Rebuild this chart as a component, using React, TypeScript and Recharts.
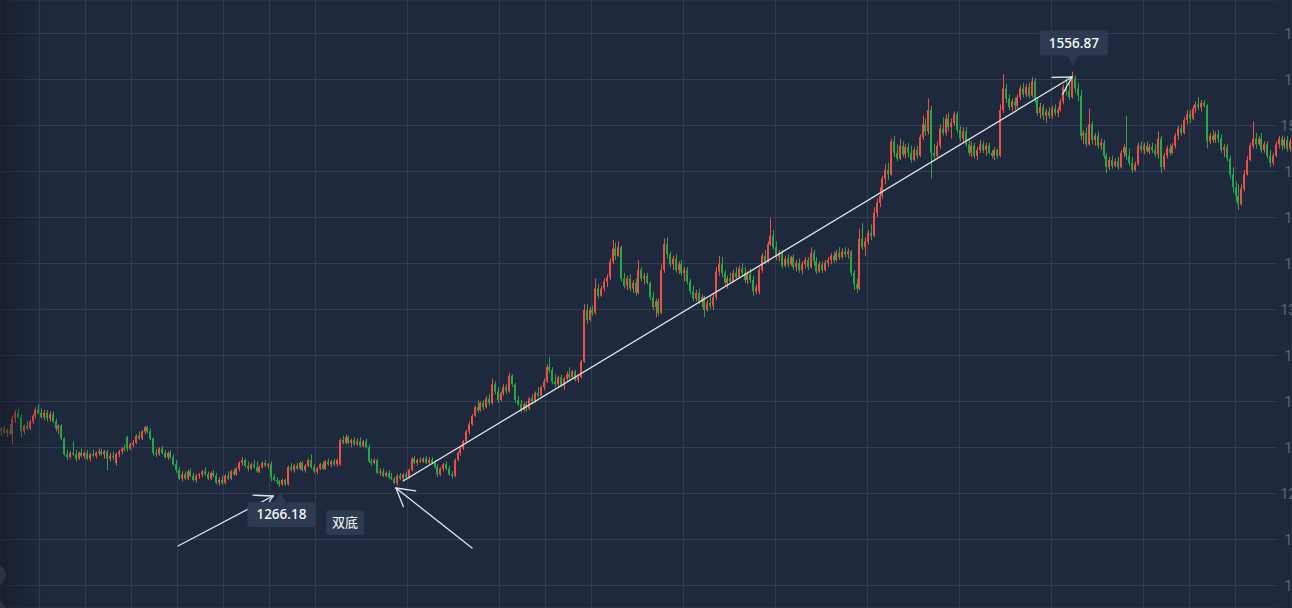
import React from "react";
import {
  ComposedChart,
  Bar,
  XAxis,
  YAxis,
  CartesianGrid,
  ReferenceLine,
  ReferenceDot,
} from "recharts";

// ---------- data ----------
const opens = [
  1305,1307,1304,1306,1303,1314,1318,1315,1305,1309,
  1307,1312,1316,1320,1318,1315,1318,1314,1317,1312,
  1307,1309,1300,1289,1287,1290,1289,1286,1290,1288,
  1290,1286,1289,1288,1290,1291,1289,1291,1286,1288,
  1283,1289,1291,1293,1301,1293,1296,1297,1302,1300,
  1305,1308,1305,1300,1290,1289,1293,1290,1287,1290,
  1287,1282,1278,1272,1275,1272,1277,1274,1271,1274,
  1275,1277,1275,1272,1276,
  1274,1269,1271,1269,1274,
  1272,1277,1275,1279,1283,1285,1281,1279,1282,1280,
  1277,1280,1283,1281,1282,1273,1271,1270,1268,1271,
  1268,1280,1278,1281,1279,1283,1278,1281,1285,1280,
  1277,1279,1282,1279,1284,1282,1284,1282,1282,1299,
  1297,1301,1297,1299,1296,1298,1295,1298,1294,1284,
  1283,1285,1276,1277,1274,1276,1273,1272,1269,1274,
  1272,1275,1273,1278,1286,1283,1285,1284,1286,1283,
  1285,1283,1280,1275,1279,1282,1279,1275,1274,1285,
  1290,1293,1298,1305,1310,1316,1322,1320,1325,1322,
  1328,1325,1338,1333,1327,1332,1336,1333,1344,1338,
  1327,1324,1320,1324,1321,1328,1326,1332,1330,1336,
  1340,1350,1348,1340,1338,1343,1337,1342,1345,1343,
  1347,1341,1343,1354,1390,1383,1390,1388,1405,1400,
  1405,1410,1413,1424,1433,1428,1434,1412,1407,1412,
  1405,1409,1402,1418,1412,
  1414,1409,1399,1392,1396,
  1388,1418,1436,1429,1422,1426,1418,1422,1416,1418,
  1410,1403,1398,1402,1396,1399,1390,1395,1393,1399,
  1417,1422,1416,1409,1412,1410,1416,1413,1419,1416,
  1411,1415,1411,1403,1403,1418,1428,1424,1436,1442,
  1434,1427,1430,1421,1426,1422,1427,1420,1423,1418,
  1422,1425,1420,1430,1424,1417,1422,1418,1423,1425,
  1428,1425,1430,1427,1431,1429,1431,1416,1408,1405,
  1440,1434,1438,1444,1442,1458,1465,1470,1482,1488,
  1485,1508,1500,1496,1505,1499,1504,1500,1495,1502,
  1498,1511,1520,1515,1530,1500,1498,1505,1517,1514,
  1524,1518,1521,1527,1516,1510,1515,1506,1500,1505,
  1498,1502,1506,1502,1505,1500,1498,1502,1498,1530,
  1545,1538,1532,1536,1533,1539,1545,1541,1546,1540,
  1550,1537,1528,1532,1526,1529,1526,1531,1528,1530,
  1536,1546,1543,1539,1552,
  1545,1540,1512,1514,1506,
  1520,1509,1512,1505,1507,1498,1490,1495,1491,1494,
  1490,1500,1504,1498,1493,1488,1492,1505,1502,1505,
  1501,1504,1502,1499,1510,1490,1498,1503,1500,1505,
  1512,1517,1514,1523,1527,1524,1531,1534,1532,1535,
  1533,1508,1512,1509,1513,1510,1502,1504,1496,1485,
  1476,1470,1464,1475,1485,1495,1505,1510,1506,1510,
  1502,1506,1498,1493,1498,1506,1510,1505,1509,1503,
];

const highs = [
  1308,1309,1307,1310,1316,1320,1321,1317,1310,1312,
  1313,1317,1322,1324,1321,1320,1320,1319,1319,1314,
  1310,1310,1301,1292,1291,1298,1292,1291,1293,1291,
  1292,1290,1292,1291,1293,1293,1292,1292,1290,1291,
  1290,1292,1294,1296,1302,1297,1299,1303,1305,1306,
  1309,1309,1307,1301,1293,1294,1295,1292,1291,1292,
  1289,1285,1280,1277,1277,1278,1279,1276,1275,1276,
  1278,1280,1277,1277,1278,
  1276,1273,1274,1275,1277,
  1278,1279,1280,1284,1287,1286,1284,1283,1285,1284,
  1281,1284,1285,1283,1284,1275,1273,1271,1272,1272,
  1281,1283,1282,1283,1284,1284,1282,1286,1289,1282,
  1280,1283,1284,1285,1286,1285,1286,1286,1300,1302,
  1303,1302,1300,1301,1300,1301,1299,1300,1296,1286,
  1286,1286,1279,1279,1277,1278,1276,1273,1275,1276,
  1276,1277,1279,1287,1288,1286,1287,1287,1288,1287,
  1287,1285,1282,1280,1283,1284,1281,1277,1286,1291,
  1294,1299,1306,1312,1317,1323,1327,1326,1327,1330,
  1331,1342,1340,1336,1333,1338,1338,1346,1345,1339,
  1330,1327,1325,1326,1329,1331,1333,1336,1337,1342,
  1352,1357,1350,1345,1344,1345,1343,1347,1350,1348,
  1348,1344,1355,1394,1394,1392,1393,1412,1408,1407,
  1412,1415,1426,1439,1437,1438,1435,1416,1414,1415,
  1411,1412,1425,1420,1416,
  1416,1410,1403,1398,1398,
  1422,1440,1441,1431,1428,1429,1424,1425,1420,1420,
  1412,1407,1404,1405,1401,1400,1397,1400,1401,1420,
  1428,1427,1418,1414,1416,1418,1420,1421,1423,1420,
  1417,1419,1414,1408,1420,1430,1432,1438,1454,1446,
  1438,1432,1432,1428,1429,1428,1429,1425,1426,1424,
  1427,1427,1434,1432,1427,1424,1424,1425,1427,1430,
  1431,1432,1434,1433,1434,1433,1432,1418,1412,1447,
  1451,1441,1446,1450,1462,1468,1476,1484,1492,1493,
  1510,1512,1506,1510,1508,1506,1507,1505,1504,1505,
  1513,1526,1524,1538,1533,1506,1508,1520,1525,1527,
  1528,1524,1529,1529,1519,1518,1518,1509,1508,1507,
  1504,1509,1508,1507,1507,1502,1504,1503,1534,1555,
  1548,1541,1538,1539,1541,1547,1549,1548,1549,1553,
  1552,1539,1535,1534,1531,1532,1533,1534,1532,1538,
  1548,1553,1550,1556.87,1554,
  1549,1544,1516,1518,1531,
  1522,1514,1515,1510,1509,1500,1497,1498,1496,1497,
  1502,1506,1526,1503,1497,1494,1507,1508,1507,1508,
  1506,1507,1506,1515,1512,1500,1505,1506,1507,1514,
  1519,1520,1525,1530,1530,1533,1536,1539,1537,1537,
  1534,1514,1516,1515,1516,1513,1506,1506,1498,1490,
  1480,1478,1478,1488,1498,1507,1522,1514,1512,1514,
  1508,1508,1502,1500,1508,1512,1512,1511,1512,1510,
];

const lows = [
  1302,1303,1301,1303,1296,1311,1314,1301,1303,1306,
  1306,1310,1314,1317,1314,1313,1312,1312,1311,1305,
  1303,1299,1288,1285,1286,1288,1284,1285,1287,1286,
  1285,1284,1287,1286,1288,1288,1286,1278,1284,1285,
  1281,1287,1289,1291,1291,1292,1294,1296,1299,1299,
  1303,1304,1299,1288,1287,1288,1289,1286,1285,1286,
  1281,1276,1271,1270,1271,1271,1273,1270,1269,1272,
  1273,1274,1271,1271,1273,
  1268,1267,1268,1268,1271,
  1271,1274,1274,1277,1281,1280,1277,1278,1279,1276,
  1276,1279,1280,1279,1270,1270,1268,1266.18,1267,1267,
  1267,1277,1276,1278,1278,1277,1276,1280,1279,1276,
  1275,1278,1278,1278,1281,1280,1281,1280,1281,1296,
  1296,1296,1294,1295,1295,1294,1294,1293,1283,1281,
  1282,1275,1274,1273,1273,1272,1271,1268,1267,1271,
  1271,1272,1272,1277,1282,1281,1283,1283,1282,1282,
  1282,1279,1273,1274,1277,1278,1274,1272,1273,1284,
  1288,1292,1297,1303,1309,1315,1318,1319,1320,1321,
  1323,1324,1331,1325,1326,1330,1331,1332,1336,1325,
  1323,1318,1319,1319,1320,1324,1325,1329,1329,1334,
  1339,1346,1338,1336,1335,1336,1334,1340,1341,1342,
  1340,1339,1342,1353,1380,1382,1386,1387,1398,1399,
  1403,1406,1411,1422,1425,1427,1410,1405,1404,1403,
  1402,1400,1401,1410,1408,
  1408,1397,1390,1385,1386,
  1387,1416,1426,1420,1418,1416,1415,1414,1410,1408,
  1401,1396,1396,1394,1392,1385,1389,1391,1390,1397,
  1414,1413,1407,1405,1408,1409,1411,1412,1414,1409,
  1408,1409,1400,1401,1401,1416,1422,1423,1435,1432,
  1425,1424,1419,1420,1420,1421,1418,1417,1416,1415,
  1419,1418,1419,1421,1415,1416,1416,1417,1420,1422,
  1423,1424,1425,1426,1427,1426,1414,1404,1402,1404,
  1432,1428,1436,1439,1441,1455,1462,1468,1478,1481,
  1484,1497,1494,1495,1497,1496,1497,1493,1494,1496,
  1497,1509,1512,1513,1482,1496,1497,1503,1512,1512,
  1515,1510,1519,1514,1508,1507,1504,1498,1497,1496,
  1495,1500,1500,1498,1499,1496,1495,1496,1497,1528,
  1535,1530,1529,1530,1531,1537,1539,1539,1538,1539,
  1535,1526,1524,1523,1521,1524,1524,1526,1525,1529,
  1534,1540,1537,1538,1542,
  1536,1509,1506,1504,1505,
  1506,1505,1503,1502,1496,1486,1488,1489,1490,1488,
  1489,1497,1495,1491,1486,1487,1491,1500,1499,1500,
  1499,1500,1497,1496,1486,1488,1496,1498,1499,1503,
  1509,1512,1513,1520,1521,1523,1528,1530,1529,1532,
  1503,1506,1507,1507,1507,1500,1497,1494,1482,1472,
  1466,1460,1463,1473,1484,1494,1503,1503,1505,1500,
  1500,1496,1490,1491,1497,1503,1502,1503,1501,1501,
];

const closes = [
  1307,1304,1306,1303,1314,1318,1315,1305,1309,1307,
  1312,1316,1320,1318,1315,1318,1314,1317,1312,1307,
  1309,1300,1289,1287,1290,1289,1286,1290,1288,1290,
  1286,1289,1288,1290,1291,1289,1291,1286,1288,1287,
  1289,1291,1293,1292,1293,1296,1297,1302,1300,1305,
  1308,1305,1300,1290,1289,1293,1290,1287,1290,1287,
  1282,1278,1272,1275,1272,1277,1274,1271,1274,1275,
  1277,1275,1272,1276,1274,
  1269,1271,1269,1274,1272,
  1277,1275,1279,1283,1285,1281,1279,1282,1280,1277,
  1280,1283,1281,1282,1273,1271,1270,1268,1271,1268,
  1280,1278,1281,1279,1283,1278,1281,1285,1280,1277,
  1279,1282,1279,1284,1282,1284,1282,1285,1299,1297,
  1301,1297,1299,1296,1298,1295,1298,1294,1284,1283,
  1285,1276,1277,1274,1276,1273,1272,1269,1274,1272,
  1275,1273,1278,1286,1283,1285,1284,1286,1283,1285,
  1283,1280,1275,1279,1282,1279,1275,1274,1285,1290,
  1293,1298,1305,1310,1316,1322,1320,1325,1322,1328,
  1325,1338,1333,1327,1332,1336,1333,1344,1338,1327,
  1324,1320,1324,1321,1328,1326,1332,1330,1336,1340,
  1350,1348,1340,1338,1343,1337,1342,1345,1343,1347,
  1341,1343,1354,1390,1383,1390,1388,1405,1400,1405,
  1410,1413,1424,1433,1428,1434,1412,1407,1412,1405,
  1409,1402,1418,1412,1414,
  1409,1399,1392,1396,1388,
  1418,1436,1429,1422,1426,1418,1422,1416,1418,1410,
  1403,1398,1402,1396,1399,1390,1395,1393,1399,1417,
  1422,1416,1409,1412,1410,1416,1413,1419,1416,1411,
  1415,1411,1403,1406,1418,1428,1424,1436,1442,1434,
  1427,1430,1421,1426,1422,1427,1420,1423,1418,1422,
  1425,1420,1430,1424,1417,1422,1418,1423,1425,1428,
  1425,1430,1427,1431,1429,1431,1416,1408,1405,1440,
  1434,1438,1444,1442,1458,1465,1470,1482,1488,1485,
  1508,1500,1496,1505,1499,1504,1500,1495,1502,1498,
  1511,1520,1515,1530,1500,1498,1505,1517,1514,1524,
  1518,1521,1527,1516,1510,1515,1506,1500,1505,1498,
  1502,1506,1502,1505,1500,1498,1502,1498,1530,1545,
  1538,1532,1536,1533,1539,1545,1541,1546,1540,1550,
  1537,1528,1532,1526,1529,1526,1531,1528,1530,1536,
  1546,1543,1539,1552,1545,
  1540,1512,1514,1506,1520,
  1509,1512,1505,1507,1498,1490,1495,1491,1494,1490,
  1500,1504,1498,1493,1488,1492,1505,1502,1505,1501,
  1504,1502,1499,1510,1490,1498,1503,1500,1505,1512,
  1517,1514,1523,1527,1524,1531,1534,1532,1535,1533,
  1508,1512,1509,1513,1510,1502,1504,1496,1485,1476,
  1470,1464,1475,1485,1495,1505,1510,1506,1510,1502,
  1506,1498,1493,1498,1506,1510,1505,1509,1503,1508,
];

// price axis ticks (horizontal grid) and time grid positions (candle index units)
const yTicks = [1583.55, 1551.35, 1519.15, 1486.95, 1454.75, 1422.55, 1390.35, 1358.15, 1325.95, 1293.75, 1261.55, 1229.35, 1197.15];
const yDomain: [number, number] = [1181.4, 1607];
const timeGridTicks = [
  13.26, 29.28, 45.3, 61.32, 77.35, 93.37, 109.39, 125.41, 141.43, 157.45,
  173.48, 189.5, 205.52, 221.54, 237.56, 253.58, 269.61, 285.63, 301.65,
  317.67, 333.69, 349.71, 365.74, 381.76, 397.78, 413.8, 429.82,
];

// annotation arrows: [tail, tip] in (candle index, price)
const arrows = [
  { from: [61.5, 1224.8], to: [94.6, 1259.8] },
  { from: [163.9, 1223.4], to: [137.4, 1265.4] },
  { from: [139.9, 1270.3], to: [372.9, 1553.1] },
];
const patternLabel = { text: "双底", x: 119.7, y: 1241.3 };

// ---------- styling ----------
const BG = "#1f293d";
const GRID = "#333d52";
const UP = "#ec5045";
const DOWN = "#27a844";
const BOX = "#2e3a51";
const LINE = "#e3e6ec";

const N = closes.length;
const data = closes.map((c, i) => ({ i, open: opens[i], high: highs[i], low: lows[i], close: c }));

let hiIdx = 0;
let loIdx = 0;
highs.forEach((v, i) => { if (v > highs[hiIdx]) hiIdx = i; });
lows.forEach((v, i) => { if (v < lows[loIdx]) loIdx = i; });

function Candle(props: any) {
  const { x, y, width, height, payload } = props;
  if (!payload || x == null || y == null) return null;
  const { open, close, high, low } = payload;
  const top = Math.min(y, y + height);
  const total = Math.abs(height);
  const ppu = high > low ? total / (high - low) : 0;
  const cx = Math.floor(x + width / 2);
  const bTop = top + (high - Math.max(open, close)) * ppu;
  const bBot = top + (high - Math.min(open, close)) * ppu;
  const color = close >= open ? UP : DOWN;
  return (
    <g>
      <rect x={cx} y={top} width={1} height={Math.max(total, 1)} fill={color} />
      <rect x={cx - 1} y={bTop} width={2} height={Math.max(bBot - bTop, 1)} fill={color} />
    </g>
  );
}

function Arrow(props: any) {
  const { x1, y1, x2, y2 } = props;
  if ([x1, y1, x2, y2].some((v) => v == null || isNaN(v))) return null;
  const ang = Math.atan2(y1 - y2, x1 - x2);
  const L = 20;
  const A = Math.PI / 6;
  return (
    <g stroke={LINE} strokeWidth={1.3} strokeLinecap="round" fill="none">
      <line x1={x1} y1={y1} x2={x2} y2={y2} />
      <line x1={x2} y1={y2} x2={x2 + L * Math.cos(ang + A)} y2={y2 + L * Math.sin(ang + A)} />
      <line x1={x2} y1={y2} x2={x2 + L * Math.cos(ang - A)} y2={y2 + L * Math.sin(ang - A)} />
    </g>
  );
}

const numFont = "'Noto Sans', 'Open Sans', sans-serif";

function HighTag(props: any) {
  const { cx, cy } = props;
  const w = 68, h = 25;
  const top = cy - 16 - h;
  const x0 = cx + 1.5 - w / 2;
  return (
    <g>
      <rect x={x0} y={top} width={w} height={h} rx={3} fill={BOX} />
      <path d={`M${cx - 5},${top + h - 0.5} L${cx + 6},${top + h - 0.5} L${cx + 0.5},${cy - 6} Z`} fill={BOX} />
      <text x={x0 + w / 2} y={top + h / 2} dy="0.36em" textAnchor="middle" fill="#ffffff" fontSize={13.5} fontWeight={500} fontFamily={numFont}>
        {highs[hiIdx].toFixed(2)}
      </text>
    </g>
  );
}

function LowTag(props: any) {
  const { cx, cy } = props;
  const w = 68, h = 25;
  const top = cy + 15;
  const x0 = cx + 1.5 - w / 2;
  return (
    <g>
      <path d={`M${cx - 5},${top + 0.5} L${cx + 6},${top + 0.5} L${cx + 0.5},${cy + 6} Z`} fill={BOX} />
      <rect x={x0} y={top} width={w} height={h} rx={3} fill={BOX} />
      <text x={x0 + w / 2} y={top + h / 2} dy="0.36em" textAnchor="middle" fill="#ffffff" fontSize={13.5} fontWeight={500} fontFamily={numFont}>
        {lows[loIdx].toFixed(2)}
      </text>
    </g>
  );
}

function PatternTag(props: any) {
  const { cx, cy } = props;
  const w = 38, h = 25;
  return (
    <g>
      <rect x={cx - w / 2} y={cy - h / 2} width={w} height={h} rx={3} fill={BOX} />
      <text x={cx} y={cy} dy="0.36em" textAnchor="middle" fill="#ffffff" fontSize={13} fontFamily="'Noto Sans CJK SC', sans-serif">
        {patternLabel.text}
      </text>
    </g>
  );
}

function YTick(props: any) {
  const { y, payload, index } = props;
  const major = index % 4 === 2;
  return (
    <text x={major ? 1280.5 : 1284.5} y={y} dy={5} fill="#5d6679" fontSize={14} fontFamily="Roboto, sans-serif" textAnchor="start">
      {Math.round(payload.value)}
    </text>
  );
}

export default function App() {
  return (
    <div style={{ position: "absolute", left: 0, top: 0, width: 1292, height: 608, overflow: "hidden", background: BG }}>
      <ComposedChart width={1292} height={608} data={data} margin={{ top: 0, right: 0, bottom: 0, left: 0 }} barCategoryGap={0}>
        <CartesianGrid
          xAxisId="num"
          stroke={GRID}
          horizontal={(p: any) => (
            <line key={`h-${p.index}-${p.y1}`} x1={p.x1} y1={p.y1} x2={p.x2 - 15} y2={p.y2} stroke={GRID} strokeWidth={1} />
          )}
        />
        <XAxis dataKey="i" type="category" hide />
        <XAxis xAxisId="num" dataKey="i" type="number" domain={[-0.5, N - 0.5]} ticks={timeGridTicks} allowDataOverflow hide />
        <YAxis
          orientation="right"
          mirror
          type="number"
          domain={yDomain}
          ticks={yTicks}
          allowDataOverflow
          axisLine={false}
          tickLine={false}
          interval={0}
          tick={(p: any) => <YTick {...p} />}
        />
        <Bar dataKey={(d: any) => [d.low, d.high]} shape={(p: any) => <Candle {...p} />} isAnimationActive={false} />
        {arrows.map((a, k) => (
          <ReferenceLine
            key={k}
            xAxisId="num"
            segment={[{ x: a.from[0], y: a.from[1] }, { x: a.to[0], y: a.to[1] }]}
            shape={(p: any) => <Arrow {...p} />}
            ifOverflow="visible"
          />
        ))}
        <ReferenceDot xAxisId="num" x={hiIdx} y={highs[hiIdx]} r={0} shape={(p: any) => <HighTag {...p} />} ifOverflow="visible" />
        <ReferenceDot xAxisId="num" x={loIdx} y={lows[loIdx]} r={0} shape={(p: any) => <LowTag {...p} />} ifOverflow="visible" />
        <ReferenceDot xAxisId="num" x={patternLabel.x} y={patternLabel.y} r={0} shape={(p: any) => <PatternTag {...p} />} ifOverflow="visible" />
      </ComposedChart>
      <div style={{ position: "absolute", left: 0, top: 0, width: 44, height: 608, pointerEvents: "none", background: "linear-gradient(to right, rgba(18,23,35,0.55), rgba(18,23,35,0))" }} />
      <div style={{ position: "absolute", left: -16, top: 564, width: 22, height: 22, borderRadius: 11, background: "rgba(255,255,255,0.08)" }} />
      <div style={{ position: "absolute", left: -16, top: 600, width: 22, height: 22, borderRadius: 11, background: "rgba(255,255,255,0.08)" }} />
    </div>
  );
}
